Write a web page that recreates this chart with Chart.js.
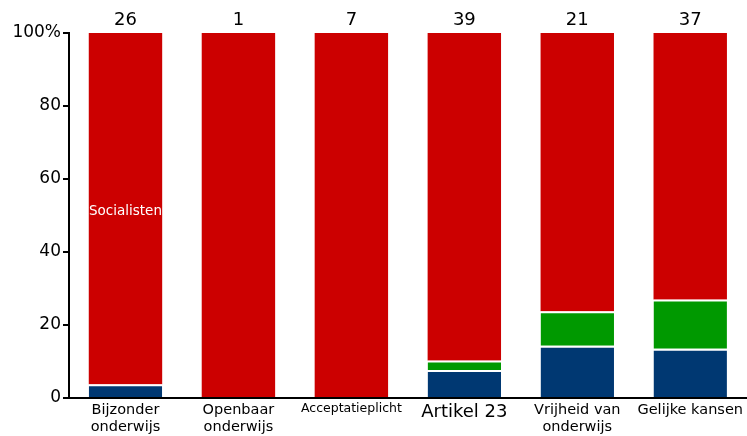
<!DOCTYPE html>
<html>
<head>
<meta charset="utf-8">
<script src="https://cdn.jsdelivr.net/npm/chart.js@4"></script>
<style>
  html, body { margin: 0; padding: 0; background: #fff; }
  #wrap { width: 747px; height: 436px; }
</style>
</head>
<body>
<div id="wrap"><canvas id="myChart"></canvas></div>
<script>
const labels = [
    ["Bijzonder", "onderwijs"],
    ["Openbaar", "onderwijs"],
    "Acceptatieplicht",
    "Artikel 23",
    ["Vrijheid van", "onderwijs"],
    "Gelijke kansen",
];
const labelSizes = [14.5, 14.5, 12.5, 18, 14.5, 14.5];
const counts = [26, 1, 7, 39, 21, 37];

// share per group, in %
const blue = [3.8, 0, 0, 7.7, 14.3, 13.5];
const green = [0, 0, 0, 2.6, 9.5, 13.5];
const red = [96.2, 100, 100, 89.7, 76.2, 73.0];

const FONT = "'DejaVu Sans', Verdana, sans-serif";

const topLabels = {
    id: "topLabels",
    afterDatasetsDraw(chart) {
        const ctx = chart.ctx;
        const meta = chart.getDatasetMeta(2);
        ctx.save();
        ctx.fillStyle = "#000";
        ctx.font = "18px " + FONT;
        ctx.textAlign = "center";
        ctx.textBaseline = "bottom";
        meta.data.forEach((bar, i) => {
            ctx.fillText(String(counts[i]), bar.x, chart.chartArea.top - 4);
        });
        // series name inside first bar
        const b = meta.data[0];
        ctx.fillStyle = "#fff";
        ctx.font = "13.5px " + FONT;
        ctx.textBaseline = "middle";
        ctx.fillText("Socialisten", b.x, chart.scales.y.getPixelForValue(51));
        ctx.restore();
    },
};

const data = {
    labels: labels,
    datasets: [
        {
            label: "Blauw",
            data: blue,
            backgroundColor: "rgb(0, 56, 114)",
            borderColor: "rgba(255,255,255,0.9)",
            borderWidth: { top: 2, bottom: 0, left: 0, right: 0 },
        },
        {
            label: "Groen",
            data: green,
            backgroundColor: "rgb(0, 153, 0)",
            borderColor: "rgba(255,255,255,0.9)",
            borderWidth: { top: 2, bottom: 0, left: 0, right: 0 },
        },
        {
            label: "Socialisten",
            data: red,
            backgroundColor: "rgb(204, 0, 0)",
            borderColor: "rgba(255,255,255,0.9)",
            borderWidth: 0,
        },
    ],
};

const config = {
    type: "bar",
    data: data,
    options: {
        responsive: true,
        maintainAspectRatio: false,
        animation: false,
        layout: { padding: { top: 33, right: 0, left: 0, bottom: 0 } },
        datasets: { bar: { categoryPercentage: 1, barPercentage: 0.65 } },
        plugins: {
            legend: { display: false },
            tooltip: { enabled: false },
        },
        scales: {
            x: {
                stacked: true,
                afterFit: (s) => { s.height = 38; },
                grid: { display: false, drawTicks: false },
                border: { display: true, color: "#000", width: 2 },
                ticks: {
                    color: "#000",
                    maxRotation: 0,
                    autoSkip: false,
                    padding: 4,
                    font: (c) => ({ family: FONT, size: labelSizes[c.index] || 14.5, lineHeight: 1.15 }),
                },
            },
            y: {
                stacked: true,
                min: 0,
                max: 100,
                afterFit: (s) => { s.width = 69; },
                grid: { drawOnChartArea: false, drawTicks: true, tickLength: 6, color: "#000", lineWidth: 2 },
                border: { display: true, color: "#000", width: 2 },
                ticks: {
                    stepSize: 20,
                    color: "#000",
                    padding: 2,
                    font: { family: FONT, size: 17 },
                    callback: (v) => (v === 100 ? "100%" : v),
                },
            },
        },
    },
    plugins: [topLabels],
};

new Chart(document.getElementById("myChart"), config);
</script>
</body>
</html>
